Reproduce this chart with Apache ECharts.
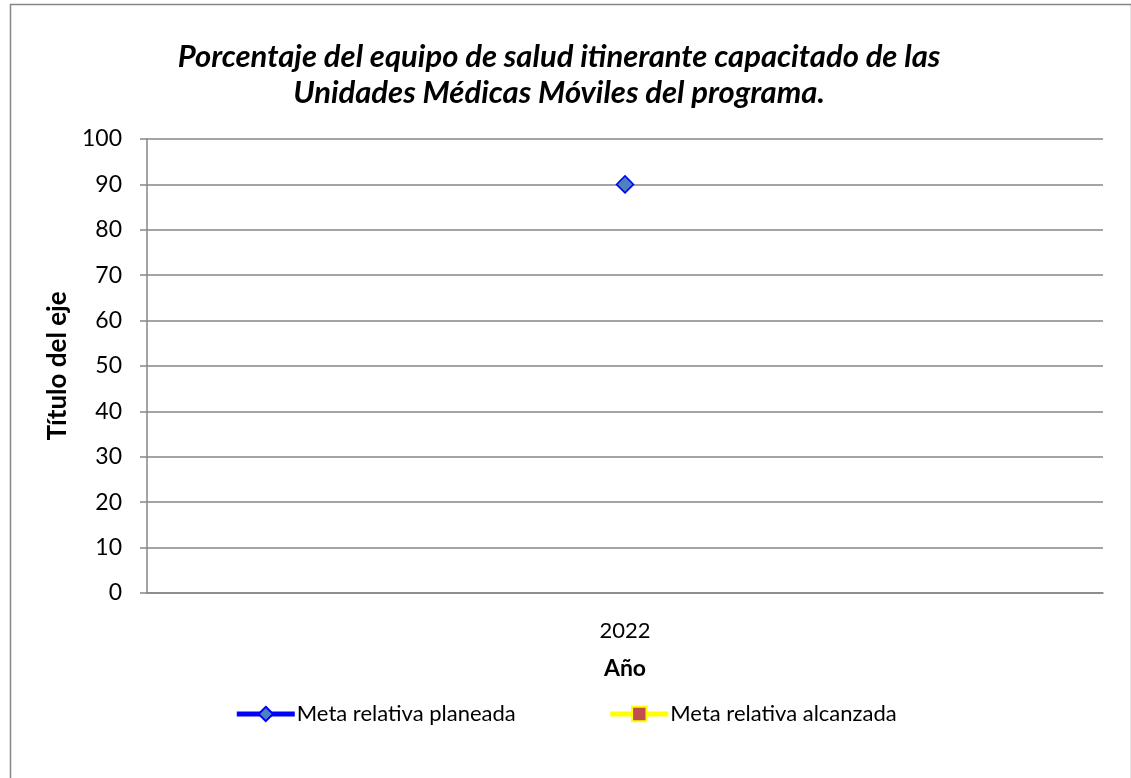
<!DOCTYPE html>
<html>
<head>
<meta charset="utf-8">
<script src="https://cdn.jsdelivr.net/npm/echarts@6/dist/echarts.min.js"></script>
<style>
html,body{margin:0;padding:0;background:#fff;}
#c{width:1131px;height:778px;}
</style>
</head>
<body>
<div id="c"></div>
<script>
const categories = ['2022'];
const planeada = [90];
const alcanzada = [null];
const seriesNames = ['Meta relativa planeada', 'Meta relativa alcanzada'];
const titleText = 'Porcentaje del equipo de salud itinerante capacitado de las\nUnidades Médicas Móviles del programa.';

const FONT = 'Lato, "Liberation Sans", sans-serif';
const chart = echarts.init(document.getElementById('c'), null, {renderer: 'canvas'});
chart.setOption({
  backgroundColor: '#ffffff',
  animation: false,
  graphic: [{
    type: 'rect', left: 8, top: 2, silent: true,
    shape: {width: 1121, height: 790},
    style: {fill: 'none', stroke: '#868686', lineWidth: 1.5}
  }],
  title: {
    text: titleText,
    left: 554, top: 34, textAlign: 'center',
    textStyle: {fontFamily: FONT, fontSize: 31, fontWeight: 'bold', fontStyle: 'italic', color: '#000', lineHeight: 36}
  },
  legend: {
    bottom: 48, left: 'center',
    itemWidth: 58, itemHeight: 18, itemGap: 92,
    lineStyle: {width: 5},
    textStyle: {fontFamily: FONT, fontSize: 22, color: '#000', padding: [0,0,0,-3]},
    data: seriesNames
  },
  grid: {left: 147, right: 28, top: 139, bottom: 185, containLabel: false},
  xAxis: {
    type: 'category', data: categories, boundaryGap: true,
    name: 'Año', nameLocation: 'middle', nameGap: 64,
    nameTextStyle: {fontFamily: FONT, fontSize: 23, fontWeight: 'bold', color: '#000', verticalAlign: 'top'},
    axisLine: {lineStyle: {color: '#868686', width: 1.5}},
    axisTick: {show: false},
    axisLabel: {fontFamily: FONT, fontSize: 22, color: '#000', margin: 27}
  },
  yAxis: {
    type: 'value', min: 0, max: 100, interval: 10,
    name: 'Título del eje', nameLocation: 'middle', nameGap: 70, nameRotate: 90,
    nameTextStyle: {fontFamily: FONT, fontSize: 26, fontWeight: 'bold', color: '#000'},
    axisLine: {show: true, lineStyle: {color: '#868686', width: 1.5}},
    axisTick: {show: true, length: 7, lineStyle: {color: '#868686', width: 1.5}},
    splitLine: {lineStyle: {color: '#868686', width: 1.5}},
    axisLabel: {fontFamily: FONT, fontSize: 23, color: '#000', margin: 25}
  },
  series: [{
    name: seriesNames[0], type: 'line', data: planeada,
    symbol: 'diamond', symbolSize: 17,
    itemStyle: {color: '#4F81BD', borderColor: '#0000FF', borderWidth: 1.5},
    lineStyle: {color: '#0000FF', width: 5}
  }, {
    name: seriesNames[1], type: 'line', data: alcanzada,
    symbol: 'rect', symbolSize: 15,
    itemStyle: {color: '#C0504D', borderColor: '#FFFF00', borderWidth: 1.5},
    lineStyle: {color: '#FFFF00', width: 5}
  }]
});
</script>
</body>
</html>
